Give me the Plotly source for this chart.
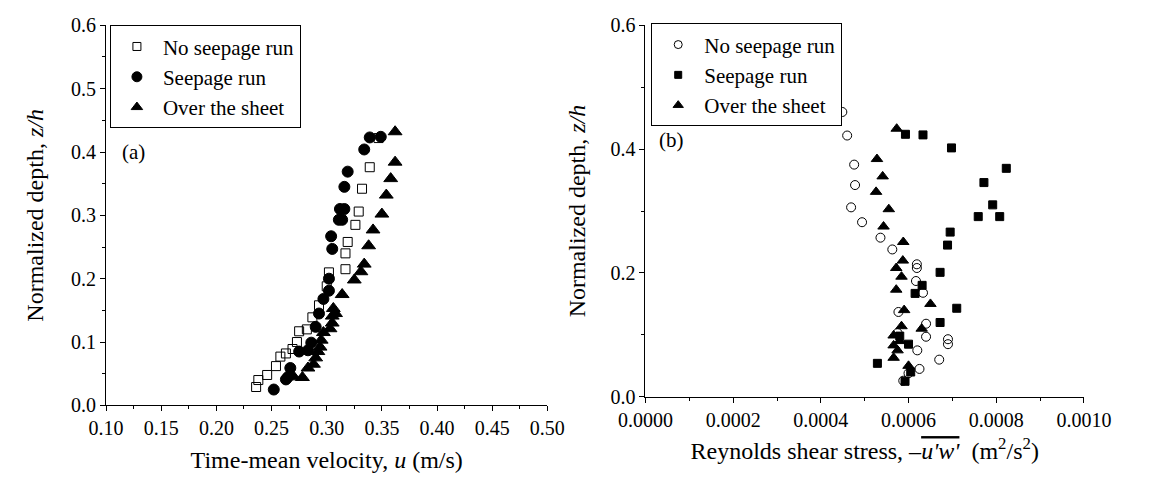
import plotly.graph_objects as go

# ---------------- Panel (a): time-mean velocity ----------------
a_noseep_u = [0.236, 0.238, 0.246, 0.254, 0.258, 0.263, 0.269, 0.273, 0.275, 0.282, 0.287,
              0.293, 0.300, 0.302, 0.317, 0.317, 0.319, 0.326, 0.329, 0.332, 0.339, 0.347]
a_noseep_z = [0.029, 0.040, 0.048, 0.062, 0.077, 0.082, 0.089, 0.100, 0.117, 0.120, 0.139,
              0.158, 0.188, 0.210, 0.215, 0.240, 0.258, 0.285, 0.306, 0.342, 0.376, 0.422]

a_seep_u = [0.252, 0.263, 0.265, 0.267, 0.275, 0.283, 0.286, 0.290, 0.293, 0.297, 0.302, 0.302,
            0.305, 0.304, 0.311, 0.314, 0.312, 0.316, 0.316, 0.319, 0.334, 0.339, 0.349]
a_seep_z = [0.025, 0.041, 0.045, 0.059, 0.085, 0.087, 0.099, 0.124, 0.145, 0.168, 0.181, 0.200,
            0.247, 0.267, 0.293, 0.293, 0.310, 0.310, 0.345, 0.369, 0.404, 0.423, 0.424]

a_sheet_u = [0.270, 0.278, 0.283, 0.288, 0.290, 0.292, 0.294, 0.295, 0.297, 0.303, 0.305, 0.305,
             0.308, 0.306, 0.314, 0.325, 0.331, 0.334, 0.338, 0.342, 0.350, 0.354, 0.358, 0.362, 0.362]
a_sheet_z = [0.045, 0.044, 0.059, 0.065, 0.075, 0.085, 0.092, 0.103, 0.115, 0.121, 0.130, 0.141,
             0.145, 0.153, 0.175, 0.198, 0.211, 0.223, 0.252, 0.277, 0.302, 0.332, 0.358, 0.384, 0.432]

# ---------------- Panel (b): Reynolds shear stress ----------------
b_noseep_r = [0.000449, 0.000460, 0.000476, 0.000478, 0.000469, 0.000494, 0.000536, 0.000563,
              0.000619, 0.000619, 0.000617, 0.000633, 0.000577, 0.000575, 0.000640, 0.000640,
              0.000620, 0.000690, 0.000690, 0.000670, 0.000625, 0.000600, 0.000588]
b_noseep_z = [0.460, 0.422, 0.375, 0.342, 0.306, 0.282, 0.257, 0.238,
              0.214, 0.208, 0.187, 0.168, 0.137, 0.103, 0.118, 0.097,
              0.075, 0.093, 0.085, 0.060, 0.045, 0.038, 0.026]

b_seep_r = [0.000593, 0.000633, 0.000698, 0.000823, 0.000772, 0.000792, 0.000759, 0.000808,
            0.000695, 0.000689, 0.000672, 0.000631, 0.000615, 0.000710, 0.000672, 0.000600,
            0.000580, 0.000529, 0.000605, 0.000592]
b_seep_z = [0.424, 0.423, 0.402, 0.369, 0.346, 0.310, 0.291, 0.291,
            0.266, 0.245, 0.201, 0.180, 0.167, 0.143, 0.120, 0.085,
            0.098, 0.054, 0.040, 0.025]

b_sheet_r = [0.000573, 0.000528, 0.000541, 0.000526, 0.000555, 0.000543, 0.000588, 0.000587,
             0.000572, 0.000584, 0.000572, 0.000650, 0.000590, 0.000630, 0.000584, 0.000566,
             0.000566, 0.000580, 0.000566, 0.000575, 0.000600]
b_sheet_z = [0.433, 0.384, 0.356, 0.331, 0.303, 0.275, 0.250, 0.220,
             0.208, 0.194, 0.173, 0.150, 0.140, 0.110, 0.114, 0.099,
             0.083, 0.090, 0.063, 0.075, 0.050]

legend_names = ["No seepage run", "Seepage run", "Over the sheet"]

FONT = "Liberation Serif"
W, H = 1149, 488

fig = go.Figure()

def add(x, y, sym, size, xa, ya):
    fig.add_trace(go.Scatter(
        x=x, y=y, mode="markers", xaxis=xa, yaxis=ya, showlegend=False,
        marker=dict(symbol=sym, size=size, color="black",
                    line=dict(color="black", width=1))))

add(a_noseep_u, a_noseep_z, "square-open", 9, "x", "y")
add(a_seep_u, a_seep_z, "circle", 11, "x", "y")
add(a_sheet_u, a_sheet_z, "triangle-up", 12, "x", "y")

add(b_noseep_r, b_noseep_z, "circle-open", 9, "x2", "y2")
add(b_seep_r, b_seep_z, "square", 8, "x2", "y2")
add(b_sheet_r, b_sheet_z, "triangle-up", 10, "x2", "y2")

# legend entries
for name, sym, sz in zip(legend_names, ["square-open", "circle", "triangle-up"], [8, 10, 10]):
    fig.add_trace(go.Scatter(x=[None], y=[None], mode="markers", name=name, legend="legend",
                             xaxis="x", yaxis="y",
                             marker=dict(symbol=sym, size=sz, color="black",
                                         line=dict(color="black", width=1))))
for name, sym, sz in zip(legend_names, ["circle-open", "square", "triangle-up"], [8, 7, 9]):
    fig.add_trace(go.Scatter(x=[None], y=[None], mode="markers", name=name, legend="legend2",
                             xaxis="x2", yaxis="y2",
                             marker=dict(symbol=sym, size=sz, color="black",
                                         line=dict(color="black", width=1))))

def px_x(p):
    return p / W

def px_y(p):
    return 1 - p / H

axis_common = dict(showline=True, linecolor="black", linewidth=1, ticks="outside",
                   ticklen=5, tickwidth=1, tickcolor="black", showgrid=False,
                   zeroline=False, mirror=False,
                   tickfont=dict(family=FONT, size=20, color="black"),
                   title_font=dict(family=FONT, size=24, color="black"))

fig.update_layout(
    width=W, height=H, margin=dict(l=0, r=0, t=0, b=0),
    paper_bgcolor="white", plot_bgcolor="white",
    font=dict(family=FONT, color="black"),
    xaxis=dict(axis_common, domain=[px_x(83), px_x(546)], range=[0.10, 0.50],
               dtick=0.05, tick0=0.1, tickformat=".2f", anchor="y",
               minor=dict(dtick=0.025, tick0=0.1, ticks="outside", ticklen=3, tickcolor="black"),
               title=dict(text="Time-mean velocity, <i>u</i> (m/s)", standoff=12)),
    yaxis=dict(axis_common, domain=[px_y(413), px_y(15)], range=[0, 0.6],
               dtick=0.1, tickformat=".1f", anchor="x",
               minor=dict(dtick=0.05, ticks="outside", ticklen=3, tickcolor="black"),
               title=dict(text="Normalized depth, <i>z/h</i>", standoff=20)),
    xaxis2=dict(axis_common, domain=[px_x(649), px_x(1109)], range=[0, 0.001],
                dtick=0.0002, tickformat=".4f", anchor="y2",
                minor=dict(dtick=0.0001, ticks="outside", ticklen=3, tickcolor="black"),
                title=dict(text="Reynolds shear stress, \u2013<span style='text-decoration:overline'><i>u'w'</i></span>  (m<sup>2</sup>/s<sup>2</sup>)",
                           standoff=12)),
    yaxis2=dict(axis_common, domain=[px_y(404), px_y(15)], range=[0, 0.6],
                dtick=0.2, tickformat=".1f", anchor="x2",
                minor=dict(dtick=0.1, ticks="outside", ticklen=3, tickcolor="black"),
                title=dict(text="Normalized depth, <i>z/h</i>", standoff=18)),
    legend=dict(x=px_x(87), y=px_y(15), xanchor="left", yanchor="top",
                bgcolor="white", bordercolor="black", borderwidth=1, itemwidth=42,
                font=dict(family=FONT, size=21, color="black"), tracegroupgap=0),
    legend2=dict(x=px_x(655), y=px_y(13), xanchor="left", yanchor="top",
                 bgcolor="white", bordercolor="black", borderwidth=1, itemwidth=42,
                 font=dict(family=FONT, size=21, color="black"), tracegroupgap=0),
    annotations=[
        dict(text="(a)", x=0.125, y=0.40, xref="x", yref="y", showarrow=False,
             font=dict(family=FONT, size=21, color="black")),
        dict(text="(b)", x=0.0000586, y=0.415, xref="x2", yref="y2", showarrow=False,
             font=dict(family=FONT, size=21, color="black")),
    ],
)

fig.write_html("out.html", config={"displayModeBar": False},
               post_script="document.body.style.margin='0';document.body.style.overflow='hidden';")
